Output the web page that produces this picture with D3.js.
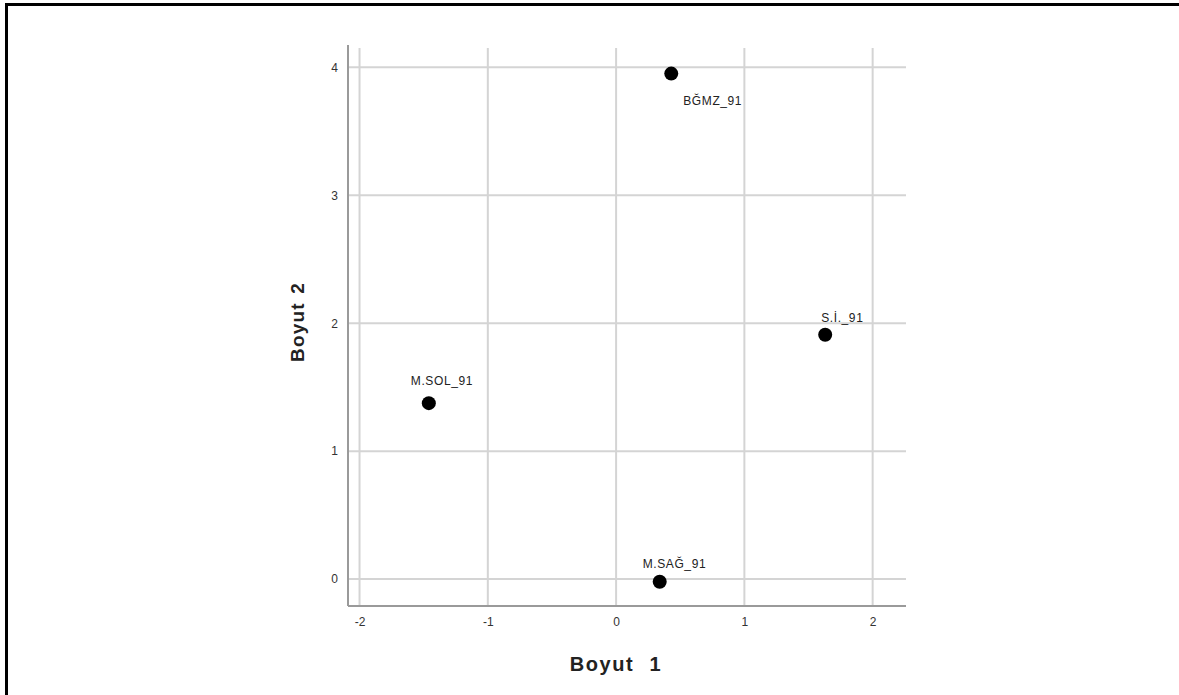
<!DOCTYPE html>
<html><head><meta charset="utf-8">
<script src="https://cdn.jsdelivr.net/npm/d3@7"></script>
<style>html,body{margin:0;padding:0;background:#fff;}svg{display:block;}</style>
</head><body>
<svg id="c" width="1179" height="695"></svg>
<script>
const labels = ["BĞMZ_91", "S.İ._91", "M.SOL_91", "M.SAĞ_91"];
const dim1 = [0.43, 1.63, -1.46, 0.34];
const dim2 = [3.95, 1.91, 1.375, -0.02];
const xTicks = [-2, -1, 0, 1, 2];
const yTicks = [0, 1, 2, 3, 4];

// label placement (style, not data)
const labelPlace = [
  {dx: 12, dy: 31}, {dx: -4, dy: -13}, {dx: -18, dy: -18}, {dx: -17, dy: -14}
];

const FONT = "Arial, 'Liberation Sans', sans-serif";
const svg = d3.select("#c");
svg.append("path").attr("d","M6.5,695 V4.5 H1179").attr("fill","none").attr("stroke","#000").attr("stroke-width",3);

const x = d3.scaleLinear().domain([-2.09, 2.26]).range([348, 906]);
const y = d3.scaleLinear().domain([-0.21, 4.15]).range([606, 48]);

const g = svg.append("g");
g.selectAll(".vg").data(xTicks).join("line")
  .attr("x1", d=>x(d)).attr("x2", d=>x(d)).attr("y1", y.range()[1]).attr("y2", y.range()[0])
  .attr("stroke","#d4d4d4").attr("stroke-width",2);
g.selectAll(".hg").data(yTicks).join("line")
  .attr("y1", d=>y(d)).attr("y2", d=>y(d)).attr("x1", x.range()[0]).attr("x2", x.range()[1])
  .attr("stroke","#d4d4d4").attr("stroke-width",2);

const fmt = d => String(d);
const xAxis = d3.axisBottom(x).tickValues(xTicks).tickSize(0).tickPadding(11).tickFormat(fmt);
const yAxis = d3.axisLeft(y).tickValues(yTicks).tickSize(0).tickPadding(10).tickFormat(fmt);
const xa = svg.append("g").attr("transform","translate(0,606)").call(xAxis);
const ya = svg.append("g").attr("transform","translate(348,0)").call(yAxis);
[xa, ya].forEach(a=>{
  a.select(".domain").attr("stroke","#9a9a9a").attr("stroke-width",2);
  a.selectAll("text").attr("font-family",FONT).attr("font-size",12).attr("fill","#333");
});
ya.select(".domain").attr("d","M0,606V45");
xa.select(".domain").attr("d","M348,0H906");

svg.selectAll(".pt").data(labels).join("circle")
  .attr("cx",(d,i)=>x(dim1[i])).attr("cy",(d,i)=>y(dim2[i])).attr("r",7).attr("fill","#000");
svg.selectAll(".lb").data(labels).join("text")
  .attr("x",(d,i)=>x(dim1[i])+labelPlace[i].dx).attr("y",(d,i)=>y(dim2[i])+labelPlace[i].dy)
  .attr("font-family",FONT).attr("font-size",12).attr("letter-spacing",0.6).attr("fill","#222")
  .text(d=>d);

svg.append("text").attr("x",616).attr("y",671).attr("text-anchor","middle")
  .attr("font-family",FONT).attr("font-size",20).attr("font-weight","bold").attr("fill","#222")
  .attr("letter-spacing",1.6).attr("word-spacing",8)
  .text("Boyut 1");
svg.append("text").attr("transform","translate(304,322) rotate(-90)").attr("text-anchor","middle")
  .attr("font-family",FONT).attr("font-size",19).attr("font-weight","bold").attr("fill","#222")
  .attr("letter-spacing",1.2).attr("word-spacing",2)
  .text("Boyut 2");
</script>
</body></html>
